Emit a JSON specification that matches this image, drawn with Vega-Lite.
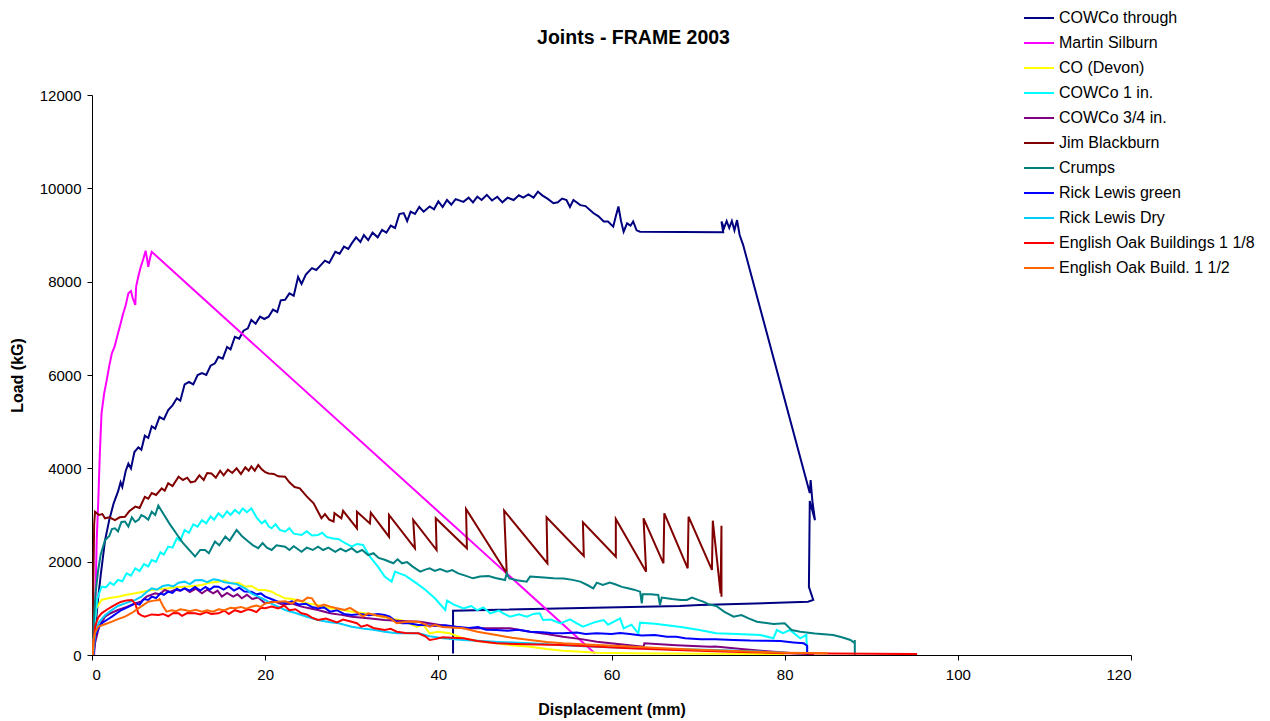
{
"$schema":"https://vega.github.io/schema/vega-lite/v6.json",
"autosize":"none",
"width":1039,"height":560,
"padding":{"left":92,"top":95,"right":139,"bottom":66},
"background":"white",
"title":{"text":"Joints - FRAME 2003","fontSize":19.5,"fontWeight":"bold","font":"Liberation Sans","color":"black","anchor":"middle","dx":22,"offset":-46},
"config":{"view":{"stroke":null},"font":"Liberation Sans"},
"data":{"values":[
{"series":"COWCo through","mm":0.2,"kg":0},{"series":"COWCo through","mm":0.4,"kg":600},{"series":"COWCo through","mm":0.7,"kg":1200},{"series":"COWCo through","mm":1.0,"kg":1700},{"series":"COWCo through","mm":1.5,"kg":2450},{"series":"COWCo through","mm":2.0,"kg":2900},{"series":"COWCo through","mm":2.5,"kg":3250},{"series":"COWCo through","mm":3.0,"kg":3500},{"series":"COWCo through","mm":3.3,"kg":3700},{"series":"COWCo through","mm":3.5,"kg":3600},{"series":"COWCo through","mm":3.9,"kg":3950},{"series":"COWCo through","mm":4.2,"kg":4100},{"series":"COWCo through","mm":4.5,"kg":4000},{"series":"COWCo through","mm":4.9,"kg":4350},{"series":"COWCo through","mm":5.35,"kg":4450},{"series":"COWCo through","mm":5.7,"kg":4400},{"series":"COWCo through","mm":6.1,"kg":4700},{"series":"COWCo through","mm":6.5,"kg":4650},{"series":"COWCo through","mm":6.9,"kg":4900},{"series":"COWCo through","mm":7.3,"kg":4850},{"series":"COWCo through","mm":7.8,"kg":5100},{"series":"COWCo through","mm":8.3,"kg":5050},{"series":"COWCo through","mm":8.8,"kg":5250},{"series":"COWCo through","mm":9.3,"kg":5350},{"series":"COWCo through","mm":9.8,"kg":5500},{"series":"COWCo through","mm":10.2,"kg":5450},{"series":"COWCo through","mm":10.7,"kg":5800},{"series":"COWCo through","mm":11.2,"kg":5850},{"series":"COWCo through","mm":11.7,"kg":5800},{"series":"COWCo through","mm":12.2,"kg":6000},{"series":"COWCo through","mm":12.7,"kg":6040},{"series":"COWCo through","mm":13.2,"kg":6000},{"series":"COWCo through","mm":13.7,"kg":6200},{"series":"COWCo through","mm":14.2,"kg":6250},{"series":"COWCo through","mm":14.6,"kg":6390},{"series":"COWCo through","mm":15.1,"kg":6350},{"series":"COWCo through","mm":15.6,"kg":6600},{"series":"COWCo through","mm":16.0,"kg":6550},{"series":"COWCo through","mm":16.5,"kg":6820},{"series":"COWCo through","mm":17.0,"kg":6780},{"series":"COWCo through","mm":17.5,"kg":6950},{"series":"COWCo through","mm":18.0,"kg":7000},{"series":"COWCo through","mm":18.4,"kg":7180},{"series":"COWCo through","mm":18.9,"kg":7100},{"series":"COWCo through","mm":19.4,"kg":7250},{"series":"COWCo through","mm":19.9,"kg":7200},{"series":"COWCo through","mm":20.4,"kg":7250},{"series":"COWCo through","mm":20.9,"kg":7400},{"series":"COWCo through","mm":21.4,"kg":7350},{"series":"COWCo through","mm":21.8,"kg":7600},{"series":"COWCo through","mm":22.3,"kg":7610},{"series":"COWCo through","mm":22.8,"kg":7750},{"series":"COWCo through","mm":23.3,"kg":7700},{"series":"COWCo through","mm":23.8,"kg":8100},{"series":"COWCo through","mm":24.2,"kg":7950},{"series":"COWCo through","mm":24.7,"kg":8150},{"series":"COWCo through","mm":25.4,"kg":8290},{"series":"COWCo through","mm":25.9,"kg":8250},{"series":"COWCo through","mm":26.4,"kg":8350},{"series":"COWCo through","mm":26.9,"kg":8450},{"series":"COWCo through","mm":27.4,"kg":8400},{"series":"COWCo through","mm":28.1,"kg":8640},{"series":"COWCo through","mm":28.6,"kg":8600},{"series":"COWCo through","mm":29.1,"kg":8750},{"series":"COWCo through","mm":29.6,"kg":8700},{"series":"COWCo through","mm":30.0,"kg":8820},{"series":"COWCo through","mm":30.5,"kg":8950},{"series":"COWCo through","mm":31.0,"kg":8850},{"series":"COWCo through","mm":31.4,"kg":9000},{"series":"COWCo through","mm":31.9,"kg":8890},{"series":"COWCo through","mm":32.4,"kg":9050},{"series":"COWCo through","mm":33.0,"kg":8950},{"series":"COWCo through","mm":33.5,"kg":9110},{"series":"COWCo through","mm":34.0,"kg":9050},{"series":"COWCo through","mm":34.5,"kg":9200},{"series":"COWCo through","mm":35.0,"kg":9150},{"series":"COWCo through","mm":35.5,"kg":9450},{"series":"COWCo through","mm":36.0,"kg":9470},{"series":"COWCo through","mm":36.4,"kg":9300},{"series":"COWCo through","mm":36.8,"kg":9500},{"series":"COWCo through","mm":37.3,"kg":9450},{"series":"COWCo through","mm":37.8,"kg":9600},{"series":"COWCo through","mm":38.3,"kg":9500},{"series":"COWCo through","mm":39.0,"kg":9610},{"series":"COWCo through","mm":39.5,"kg":9550},{"series":"COWCo through","mm":40.0,"kg":9720},{"series":"COWCo through","mm":40.5,"kg":9600},{"series":"COWCo through","mm":41.0,"kg":9750},{"series":"COWCo through","mm":41.5,"kg":9650},{"series":"COWCo through","mm":42.0,"kg":9770},{"series":"COWCo through","mm":42.9,"kg":9710},{"series":"COWCo through","mm":43.5,"kg":9800},{"series":"COWCo through","mm":44.0,"kg":9700},{"series":"COWCo through","mm":44.5,"kg":9820},{"series":"COWCo through","mm":45.0,"kg":9750},{"series":"COWCo through","mm":45.6,"kg":9860},{"series":"COWCo through","mm":46.2,"kg":9740},{"series":"COWCo through","mm":46.8,"kg":9820},{"series":"COWCo through","mm":47.4,"kg":9700},{"series":"COWCo through","mm":48.0,"kg":9800},{"series":"COWCo through","mm":48.7,"kg":9750},{"series":"COWCo through","mm":49.3,"kg":9850},{"series":"COWCo through","mm":49.8,"kg":9800},{"series":"COWCo through","mm":50.4,"kg":9870},{"series":"COWCo through","mm":51.0,"kg":9800},{"series":"COWCo through","mm":51.5,"kg":9930},{"series":"COWCo through","mm":52.0,"kg":9850},{"series":"COWCo through","mm":52.6,"kg":9780},{"series":"COWCo through","mm":53.3,"kg":9680},{"series":"COWCo through","mm":53.8,"kg":9700},{"series":"COWCo through","mm":54.3,"kg":9780},{"series":"COWCo through","mm":54.8,"kg":9750},{"series":"COWCo through","mm":55.2,"kg":9600},{"series":"COWCo through","mm":55.6,"kg":9750},{"series":"COWCo through","mm":56.4,"kg":9640},{"series":"COWCo through","mm":57.0,"kg":9620},{"series":"COWCo through","mm":57.9,"kg":9470},{"series":"COWCo through","mm":58.5,"kg":9400},{"series":"COWCo through","mm":59.1,"kg":9290},{"series":"COWCo through","mm":59.6,"kg":9290},{"series":"COWCo through","mm":60.2,"kg":9180},{"series":"COWCo through","mm":60.5,"kg":9400},{"series":"COWCo through","mm":60.8,"kg":9610},{"series":"COWCo through","mm":61.1,"kg":9300},{"series":"COWCo through","mm":61.4,"kg":9070},{"series":"COWCo through","mm":61.8,"kg":9250},{"series":"COWCo through","mm":62.2,"kg":9200},{"series":"COWCo through","mm":62.5,"kg":9290},{"series":"COWCo through","mm":62.9,"kg":9100},{"series":"COWCo through","mm":63.3,"kg":9070},{"series":"COWCo through","mm":72.9,"kg":9060},{"series":"COWCo through","mm":72.7,"kg":9290},{"series":"COWCo through","mm":73.0,"kg":9150},{"series":"COWCo through","mm":73.3,"kg":9300},{"series":"COWCo through","mm":73.6,"kg":9150},{"series":"COWCo through","mm":73.9,"kg":9300},{"series":"COWCo through","mm":74.2,"kg":9100},{"series":"COWCo through","mm":74.5,"kg":9320},{"series":"COWCo through","mm":74.8,"kg":9000},{"series":"COWCo through","mm":75.2,"kg":8790},{"series":"COWCo through","mm":82.9,"kg":3470},{"series":"COWCo through","mm":83.0,"kg":3750},{"series":"COWCo through","mm":83.2,"kg":3300},{"series":"COWCo through","mm":83.5,"kg":2890},{"series":"COWCo through","mm":82.9,"kg":3300},{"series":"COWCo through","mm":82.8,"kg":1460},{"series":"COWCo through","mm":83.3,"kg":1180},{"series":"COWCo through","mm":82.7,"kg":1140},{"series":"COWCo through","mm":70.2,"kg":1070},{"series":"COWCo through","mm":67.9,"kg":1050},{"series":"COWCo through","mm":41.7,"kg":950},{"series":"COWCo through","mm":41.7,"kg":30},

{"series":"Martin Silburn","mm":0.25,"kg":0},{"series":"Martin Silburn","mm":0.4,"kg":1200},{"series":"Martin Silburn","mm":0.55,"kg":2500},{"series":"Martin Silburn","mm":0.73,"kg":3320},{"series":"Martin Silburn","mm":0.9,"kg":4300},{"series":"Martin Silburn","mm":1.1,"kg":5180},{"series":"Martin Silburn","mm":1.4,"kg":5600},{"series":"Martin Silburn","mm":1.7,"kg":5890},{"series":"Martin Silburn","mm":2.0,"kg":6200},{"series":"Martin Silburn","mm":2.3,"kg":6470},{"series":"Martin Silburn","mm":2.6,"kg":6600},{"series":"Martin Silburn","mm":3.0,"kg":6890},{"series":"Martin Silburn","mm":3.3,"kg":7100},{"series":"Martin Silburn","mm":3.6,"kg":7320},{"series":"Martin Silburn","mm":3.9,"kg":7500},{"series":"Martin Silburn","mm":4.2,"kg":7750},{"series":"Martin Silburn","mm":4.5,"kg":7800},{"series":"Martin Silburn","mm":4.7,"kg":7650},{"series":"Martin Silburn","mm":5.0,"kg":7500},{"series":"Martin Silburn","mm":5.1,"kg":7900},{"series":"Martin Silburn","mm":5.35,"kg":8110},{"series":"Martin Silburn","mm":5.6,"kg":8300},{"series":"Martin Silburn","mm":5.9,"kg":8470},{"series":"Martin Silburn","mm":6.2,"kg":8660},{"series":"Martin Silburn","mm":6.35,"kg":8500},{"series":"Martin Silburn","mm":6.5,"kg":8320},{"series":"Martin Silburn","mm":6.7,"kg":8500},{"series":"Martin Silburn","mm":6.9,"kg":8640},{"series":"Martin Silburn","mm":58.1,"kg":30},

{"series":"\u00a0CO (Devon)","mm":0.1,"kg":0},{"series":"\u00a0CO (Devon)","mm":0.2,"kg":600},{"series":"\u00a0CO (Devon)","mm":0.5,"kg":1000},{"series":"\u00a0CO (Devon)","mm":1.1,"kg":1180},{"series":"\u00a0CO (Devon)","mm":2.0,"kg":1220},{"series":"\u00a0CO (Devon)","mm":3.0,"kg":1250},{"series":"\u00a0CO (Devon)","mm":4.0,"kg":1290},{"series":"\u00a0CO (Devon)","mm":5.0,"kg":1322},{"series":"\u00a0CO (Devon)","mm":6.0,"kg":1360},{"series":"\u00a0CO (Devon)","mm":6.9,"kg":1393},{"series":"\u00a0CO (Devon)","mm":7.8,"kg":1410},{"series":"\u00a0CO (Devon)","mm":8.8,"kg":1429},{"series":"\u00a0CO (Devon)","mm":9.7,"kg":1450},{"series":"\u00a0CO (Devon)","mm":10.7,"kg":1464},{"series":"\u00a0CO (Devon)","mm":11.7,"kg":1480},{"series":"\u00a0CO (Devon)","mm":12.7,"kg":1500},{"series":"\u00a0CO (Devon)","mm":13.6,"kg":1550},{"series":"\u00a0CO (Devon)","mm":14.6,"kg":1572},{"series":"\u00a0CO (Devon)","mm":15.3,"kg":1600},{"series":"\u00a0CO (Devon)","mm":16.1,"kg":1536},{"series":"\u00a0CO (Devon)","mm":16.9,"kg":1550},{"series":"\u00a0CO (Devon)","mm":17.7,"kg":1464},{"series":"\u00a0CO (Devon)","mm":18.4,"kg":1480},{"series":"\u00a0CO (Devon)","mm":19.2,"kg":1393},{"series":"\u00a0CO (Devon)","mm":20.0,"kg":1393},{"series":"\u00a0CO (Devon)","mm":20.75,"kg":1357},{"series":"\u00a0CO (Devon)","mm":21.3,"kg":1300},{"series":"\u00a0CO (Devon)","mm":21.9,"kg":1250},{"series":"\u00a0CO (Devon)","mm":22.3,"kg":1215},{"series":"\u00a0CO (Devon)","mm":23.2,"kg":1200},{"series":"\u00a0CO (Devon)","mm":24.2,"kg":1143},{"series":"\u00a0CO (Devon)","mm":25.1,"kg":1100},{"series":"\u00a0CO (Devon)","mm":26.1,"kg":1071},{"series":"\u00a0CO (Devon)","mm":27.5,"kg":1000},{"series":"\u00a0CO (Devon)","mm":28.5,"kg":980},{"series":"\u00a0CO (Devon)","mm":30.0,"kg":929},{"series":"\u00a0CO (Devon)","mm":31.3,"kg":900},{"series":"\u00a0CO (Devon)","mm":32.7,"kg":857},{"series":"\u00a0CO (Devon)","mm":33.3,"kg":822},{"series":"\u00a0CO (Devon)","mm":34.5,"kg":780},{"series":"\u00a0CO (Devon)","mm":35.8,"kg":740},{"series":"\u00a0CO (Devon)","mm":37.5,"kg":607},{"series":"\u00a0CO (Devon)","mm":38.3,"kg":640},{"series":"\u00a0CO (Devon)","mm":39.0,"kg":464},{"series":"\u00a0CO (Devon)","mm":40.0,"kg":500},{"series":"\u00a0CO (Devon)","mm":41.3,"kg":464},{"series":"\u00a0CO (Devon)","mm":42.9,"kg":357},{"series":"\u00a0CO (Devon)","mm":44.5,"kg":300},{"series":"\u00a0CO (Devon)","mm":46.7,"kg":250},{"series":"\u00a0CO (Devon)","mm":48.5,"kg":210},{"series":"\u00a0CO (Devon)","mm":50.6,"kg":179},{"series":"\u00a0CO (Devon)","mm":52.5,"kg":130},{"series":"\u00a0CO (Devon)","mm":54.4,"kg":93},{"series":"\u00a0CO (Devon)","mm":56.5,"kg":70},{"series":"\u00a0CO (Devon)","mm":58.3,"kg":50},{"series":"\u00a0CO (Devon)","mm":62.0,"kg":40},{"series":"\u00a0CO (Devon)","mm":65.9,"kg":30},{"series":"\u00a0CO (Devon)","mm":72.0,"kg":25},{"series":"\u00a0CO (Devon)","mm":80.0,"kg":20},

{"series":"COWCo 1 in.","mm":0.1,"kg":0},{"series":"COWCo 1 in.","mm":0.2,"kg":500},{"series":"COWCo 1 in.","mm":0.35,"kg":750},{"series":"COWCo 1 in.","mm":0.6,"kg":1200},{"series":"COWCo 1 in.","mm":1.1,"kg":1464},{"series":"COWCo 1 in.","mm":1.6,"kg":1450},{"series":"COWCo 1 in.","mm":2.1,"kg":1550},{"series":"COWCo 1 in.","mm":2.5,"kg":1500},{"series":"COWCo 1 in.","mm":3.0,"kg":1607},{"series":"COWCo 1 in.","mm":3.5,"kg":1580},{"series":"COWCo 1 in.","mm":4.0,"kg":1750},{"series":"COWCo 1 in.","mm":4.5,"kg":1700},{"series":"COWCo 1 in.","mm":5.0,"kg":1858},{"series":"COWCo 1 in.","mm":5.5,"kg":1800},{"series":"COWCo 1 in.","mm":6.0,"kg":1950},{"series":"COWCo 1 in.","mm":6.5,"kg":1900},{"series":"COWCo 1 in.","mm":6.9,"kg":2036},{"series":"COWCo 1 in.","mm":7.4,"kg":2000},{"series":"COWCo 1 in.","mm":7.9,"kg":2200},{"series":"COWCo 1 in.","mm":8.3,"kg":2150},{"series":"COWCo 1 in.","mm":8.8,"kg":2322},{"series":"COWCo 1 in.","mm":9.3,"kg":2300},{"series":"COWCo 1 in.","mm":9.8,"kg":2500},{"series":"COWCo 1 in.","mm":10.2,"kg":2450},{"series":"COWCo 1 in.","mm":10.7,"kg":2680},{"series":"COWCo 1 in.","mm":11.2,"kg":2620},{"series":"COWCo 1 in.","mm":11.7,"kg":2800},{"series":"COWCo 1 in.","mm":12.2,"kg":2750},{"series":"COWCo 1 in.","mm":12.7,"kg":2890},{"series":"COWCo 1 in.","mm":13.2,"kg":2820},{"series":"COWCo 1 in.","mm":13.7,"kg":2970},{"series":"COWCo 1 in.","mm":14.1,"kg":2900},{"series":"COWCo 1 in.","mm":14.6,"kg":3036},{"series":"COWCo 1 in.","mm":15.1,"kg":2950},{"series":"COWCo 1 in.","mm":15.6,"kg":3080},{"series":"COWCo 1 in.","mm":16.0,"kg":3000},{"series":"COWCo 1 in.","mm":16.5,"kg":3107},{"series":"COWCo 1 in.","mm":17.0,"kg":3030},{"series":"COWCo 1 in.","mm":17.4,"kg":3140},{"series":"COWCo 1 in.","mm":17.9,"kg":3060},{"series":"COWCo 1 in.","mm":18.4,"kg":3143},{"series":"COWCo 1 in.","mm":19.0,"kg":2950},{"series":"COWCo 1 in.","mm":19.6,"kg":2822},{"series":"COWCo 1 in.","mm":20.0,"kg":2880},{"series":"COWCo 1 in.","mm":20.4,"kg":2760},{"series":"COWCo 1 in.","mm":20.75,"kg":2715},{"series":"COWCo 1 in.","mm":21.2,"kg":2800},{"series":"COWCo 1 in.","mm":21.7,"kg":2680},{"series":"COWCo 1 in.","mm":22.3,"kg":2643},{"series":"COWCo 1 in.","mm":22.8,"kg":2720},{"series":"COWCo 1 in.","mm":23.3,"kg":2600},{"series":"COWCo 1 in.","mm":24.2,"kg":2572},{"series":"COWCo 1 in.","mm":24.8,"kg":2650},{"series":"COWCo 1 in.","mm":25.4,"kg":2560},{"series":"COWCo 1 in.","mm":26.1,"kg":2572},{"series":"COWCo 1 in.","mm":26.6,"kg":2620},{"series":"COWCo 1 in.","mm":27.1,"kg":2530},{"series":"COWCo 1 in.","mm":27.7,"kg":2500},{"series":"COWCo 1 in.","mm":28.5,"kg":2480},{"series":"COWCo 1 in.","mm":29.2,"kg":2400},{"series":"COWCo 1 in.","mm":30.0,"kg":2322},{"series":"COWCo 1 in.","mm":30.6,"kg":2380},{"series":"COWCo 1 in.","mm":31.3,"kg":2357},{"series":"COWCo 1 in.","mm":32.1,"kg":2107},{"series":"COWCo 1 in.","mm":33.0,"kg":1900},{"series":"COWCo 1 in.","mm":33.8,"kg":1679},{"series":"COWCo 1 in.","mm":34.6,"kg":1572},{"series":"COWCo 1 in.","mm":35.0,"kg":1786},{"series":"COWCo 1 in.","mm":35.5,"kg":1750},{"series":"COWCo 1 in.","mm":36.2,"kg":1700},{"series":"COWCo 1 in.","mm":37.5,"kg":1536},{"series":"COWCo 1 in.","mm":38.5,"kg":1400},{"series":"COWCo 1 in.","mm":39.6,"kg":1215},{"series":"COWCo 1 in.","mm":40.8,"kg":964},{"series":"COWCo 1 in.","mm":41.0,"kg":1164},{"series":"COWCo 1 in.","mm":41.8,"kg":1080},{"series":"COWCo 1 in.","mm":42.9,"kg":1000},{"series":"COWCo 1 in.","mm":43.8,"kg":1050},{"series":"COWCo 1 in.","mm":44.5,"kg":960},{"series":"COWCo 1 in.","mm":45.2,"kg":1020},{"series":"COWCo 1 in.","mm":46.0,"kg":893},{"series":"COWCo 1 in.","mm":47.0,"kg":950},{"series":"COWCo 1 in.","mm":47.5,"kg":893},{"series":"COWCo 1 in.","mm":48.3,"kg":822},{"series":"COWCo 1 in.","mm":49.3,"kg":870},{"series":"COWCo 1 in.","mm":50.2,"kg":822},{"series":"COWCo 1 in.","mm":51.0,"kg":880},{"series":"COWCo 1 in.","mm":51.7,"kg":893},{"series":"COWCo 1 in.","mm":52.1,"kg":750},{"series":"COWCo 1 in.","mm":53.0,"kg":760},{"series":"COWCo 1 in.","mm":54.1,"kg":679},{"series":"COWCo 1 in.","mm":55.2,"kg":764},{"series":"COWCo 1 in.","mm":56.0,"kg":680},{"series":"COWCo 1 in.","mm":56.7,"kg":607},{"series":"COWCo 1 in.","mm":58.0,"kg":700},{"series":"COWCo 1 in.","mm":59.1,"kg":750},{"series":"COWCo 1 in.","mm":59.6,"kg":650},{"series":"COWCo 1 in.","mm":61.0,"kg":786},{"series":"COWCo 1 in.","mm":61.4,"kg":572},{"series":"COWCo 1 in.","mm":62.3,"kg":650},{"series":"COWCo 1 in.","mm":63.1,"kg":464},{"series":"COWCo 1 in.","mm":63.3,"kg":693},{"series":"COWCo 1 in.","mm":65.0,"kg":670},{"series":"COWCo 1 in.","mm":66.2,"kg":643},{"series":"COWCo 1 in.","mm":68.0,"kg":600},{"series":"COWCo 1 in.","mm":70.0,"kg":540},{"series":"COWCo 1 in.","mm":72.1,"kg":464},{"series":"COWCo 1 in.","mm":74.5,"kg":450},{"series":"COWCo 1 in.","mm":77.2,"kg":429},{"series":"COWCo 1 in.","mm":78.7,"kg":357},{"series":"COWCo 1 in.","mm":79.1,"kg":536},{"series":"COWCo 1 in.","mm":79.8,"kg":470},{"series":"COWCo 1 in.","mm":80.6,"kg":536},{"series":"COWCo 1 in.","mm":81.8,"kg":357},{"series":"COWCo 1 in.","mm":82.5,"kg":429},{"series":"COWCo 1 in.","mm":82.6,"kg":0},

{"series":"COWCo 3/4 in.","mm":0.2,"kg":0},{"series":"COWCo 3/4 in.","mm":0.35,"kg":250},{"series":"COWCo 3/4 in.","mm":0.8,"kg":600},{"series":"COWCo 3/4 in.","mm":1.5,"kg":822},{"series":"COWCo 3/4 in.","mm":2.2,"kg":900},{"series":"COWCo 3/4 in.","mm":3.0,"kg":964},{"series":"COWCo 3/4 in.","mm":4.0,"kg":1030},{"series":"COWCo 3/4 in.","mm":5.0,"kg":1107},{"series":"COWCo 3/4 in.","mm":5.7,"kg":1150},{"series":"COWCo 3/4 in.","mm":6.3,"kg":1250},{"series":"COWCo 3/4 in.","mm":7.3,"kg":1322},{"series":"COWCo 3/4 in.","mm":7.8,"kg":1300},{"series":"COWCo 3/4 in.","mm":8.4,"kg":1393},{"series":"COWCo 3/4 in.","mm":9.0,"kg":1350},{"series":"COWCo 3/4 in.","mm":9.6,"kg":1400},{"series":"COWCo 3/4 in.","mm":10.2,"kg":1380},{"series":"COWCo 3/4 in.","mm":10.7,"kg":1429},{"series":"COWCo 3/4 in.","mm":11.3,"kg":1350},{"series":"COWCo 3/4 in.","mm":12.0,"kg":1420},{"series":"COWCo 3/4 in.","mm":12.7,"kg":1322},{"series":"COWCo 3/4 in.","mm":13.3,"kg":1400},{"series":"COWCo 3/4 in.","mm":14.0,"kg":1320},{"series":"COWCo 3/4 in.","mm":14.5,"kg":1380},{"series":"COWCo 3/4 in.","mm":15.0,"kg":1250},{"series":"COWCo 3/4 in.","mm":15.6,"kg":1330},{"series":"COWCo 3/4 in.","mm":16.3,"kg":1250},{"series":"COWCo 3/4 in.","mm":16.8,"kg":1300},{"series":"COWCo 3/4 in.","mm":17.3,"kg":1215},{"series":"COWCo 3/4 in.","mm":17.9,"kg":1290},{"series":"COWCo 3/4 in.","mm":18.5,"kg":1200},{"series":"COWCo 3/4 in.","mm":19.2,"kg":1230},{"series":"COWCo 3/4 in.","mm":20.0,"kg":1107},{"series":"COWCo 3/4 in.","mm":21.0,"kg":1150},{"series":"COWCo 3/4 in.","mm":22.0,"kg":1080},{"series":"COWCo 3/4 in.","mm":23.1,"kg":1100},{"series":"COWCo 3/4 in.","mm":24.2,"kg":1036},{"series":"COWCo 3/4 in.","mm":25.1,"kg":1000},{"series":"COWCo 3/4 in.","mm":26.1,"kg":964},{"series":"COWCo 3/4 in.","mm":27.5,"kg":893},{"series":"COWCo 3/4 in.","mm":28.8,"kg":860},{"series":"COWCo 3/4 in.","mm":30.0,"kg":822},{"series":"COWCo 3/4 in.","mm":31.9,"kg":790},{"series":"COWCo 3/4 in.","mm":33.8,"kg":750},{"series":"COWCo 3/4 in.","mm":35.8,"kg":730},{"series":"COWCo 3/4 in.","mm":37.9,"kg":714},{"series":"COWCo 3/4 in.","mm":40.0,"kg":650},{"series":"COWCo 3/4 in.","mm":41.5,"kg":610},{"series":"COWCo 3/4 in.","mm":42.9,"kg":572},{"series":"COWCo 3/4 in.","mm":45.5,"kg":572},{"series":"COWCo 3/4 in.","mm":48.3,"kg":572},{"series":"COWCo 3/4 in.","mm":50.6,"kg":500},{"series":"COWCo 3/4 in.","mm":52.5,"kg":450},{"series":"COWCo 3/4 in.","mm":54.4,"kg":393},{"series":"COWCo 3/4 in.","mm":56.5,"kg":340},{"series":"COWCo 3/4 in.","mm":58.3,"kg":286},{"series":"COWCo 3/4 in.","mm":61.0,"kg":230},{"series":"COWCo 3/4 in.","mm":63.7,"kg":179},{"series":"COWCo 3/4 in.","mm":63.8,"kg":250},{"series":"COWCo 3/4 in.","mm":67.5,"kg":210},{"series":"COWCo 3/4 in.","mm":71.4,"kg":179},{"series":"COWCo 3/4 in.","mm":72.0,"kg":180},{"series":"COWCo 3/4 in.","mm":75.0,"kg":130},{"series":"COWCo 3/4 in.","mm":78.0,"kg":80},{"series":"COWCo 3/4 in.","mm":81.0,"kg":40},{"series":"COWCo 3/4 in.","mm":83.4,"kg":10},

{"series":"Jim Blackburn","mm":0.1,"kg":0},{"series":"Jim Blackburn","mm":0.15,"kg":1500},{"series":"Jim Blackburn","mm":0.25,"kg":2800},{"series":"Jim Blackburn","mm":0.35,"kg":3070},{"series":"Jim Blackburn","mm":0.8,"kg":3000},{"series":"Jim Blackburn","mm":1.2,"kg":3020},{"series":"Jim Blackburn","mm":1.5,"kg":2930},{"series":"Jim Blackburn","mm":2.0,"kg":2950},{"series":"Jim Blackburn","mm":2.65,"kg":2890},{"series":"Jim Blackburn","mm":3.2,"kg":2950},{"series":"Jim Blackburn","mm":3.8,"kg":2960},{"series":"Jim Blackburn","mm":4.3,"kg":3080},{"series":"Jim Blackburn","mm":5.0,"kg":3180},{"series":"Jim Blackburn","mm":5.5,"kg":3150},{"series":"Jim Blackburn","mm":6.1,"kg":3390},{"series":"Jim Blackburn","mm":6.5,"kg":3350},{"series":"Jim Blackburn","mm":6.9,"kg":3470},{"series":"Jim Blackburn","mm":7.4,"kg":3430},{"series":"Jim Blackburn","mm":8.05,"kg":3570},{"series":"Jim Blackburn","mm":8.4,"kg":3520},{"series":"Jim Blackburn","mm":8.8,"kg":3680},{"series":"Jim Blackburn","mm":9.3,"kg":3620},{"series":"Jim Blackburn","mm":10.0,"kg":3820},{"series":"Jim Blackburn","mm":10.5,"kg":3750},{"series":"Jim Blackburn","mm":11.0,"kg":3800},{"series":"Jim Blackburn","mm":11.4,"kg":3700},{"series":"Jim Blackburn","mm":11.9,"kg":3720},{"series":"Jim Blackburn","mm":12.4,"kg":3850},{"series":"Jim Blackburn","mm":12.9,"kg":3750},{"series":"Jim Blackburn","mm":13.3,"kg":3900},{"series":"Jim Blackburn","mm":13.8,"kg":3890},{"series":"Jim Blackburn","mm":14.3,"kg":3800},{"series":"Jim Blackburn","mm":14.8,"kg":3950},{"series":"Jim Blackburn","mm":15.2,"kg":3850},{"series":"Jim Blackburn","mm":15.7,"kg":3970},{"series":"Jim Blackburn","mm":16.2,"kg":3900},{"series":"Jim Blackburn","mm":16.7,"kg":4000},{"series":"Jim Blackburn","mm":17.2,"kg":3880},{"series":"Jim Blackburn","mm":17.7,"kg":4020},{"series":"Jim Blackburn","mm":18.1,"kg":3950},{"series":"Jim Blackburn","mm":18.4,"kg":4040},{"series":"Jim Blackburn","mm":18.8,"kg":3950},{"series":"Jim Blackburn","mm":19.2,"kg":4070},{"series":"Jim Blackburn","mm":19.6,"kg":3980},{"series":"Jim Blackburn","mm":20.0,"kg":3920},{"series":"Jim Blackburn","mm":20.4,"kg":3890},{"series":"Jim Blackburn","mm":21.0,"kg":3880},{"series":"Jim Blackburn","mm":21.5,"kg":3830},{"series":"Jim Blackburn","mm":22.3,"kg":3820},{"series":"Jim Blackburn","mm":22.8,"kg":3700},{"series":"Jim Blackburn","mm":23.4,"kg":3600},{"series":"Jim Blackburn","mm":24.0,"kg":3570},{"series":"Jim Blackburn","mm":24.8,"kg":3400},{"series":"Jim Blackburn","mm":25.6,"kg":3250},{"series":"Jim Blackburn","mm":26.5,"kg":2930},{"series":"Jim Blackburn","mm":26.9,"kg":3020},{"series":"Jim Blackburn","mm":27.4,"kg":2900},{"series":"Jim Blackburn","mm":27.9,"kg":2860},{"series":"Jim Blackburn","mm":28.0,"kg":3040},{"series":"Jim Blackburn","mm":28.8,"kg":2930},{"series":"Jim Blackburn","mm":29.0,"kg":3090},{"series":"Jim Blackburn","mm":30.6,"kg":2715},{"series":"Jim Blackburn","mm":30.6,"kg":3070},{"series":"Jim Blackburn","mm":32.1,"kg":2820},{"series":"Jim Blackburn","mm":32.2,"kg":3050},{"series":"Jim Blackburn","mm":34.3,"kg":2536},{"series":"Jim Blackburn","mm":34.3,"kg":3000},{"series":"Jim Blackburn","mm":37.3,"kg":2286},{"series":"Jim Blackburn","mm":37.1,"kg":2893},{"series":"Jim Blackburn","mm":39.8,"kg":2250},{"series":"Jim Blackburn","mm":39.7,"kg":2930},{"series":"Jim Blackburn","mm":43.3,"kg":2286},{"series":"Jim Blackburn","mm":43.2,"kg":3129},{"series":"Jim Blackburn","mm":47.9,"kg":1750},{"series":"Jim Blackburn","mm":47.6,"kg":3093},{"series":"Jim Blackburn","mm":52.6,"kg":1965},{"series":"Jim Blackburn","mm":52.5,"kg":2950},{"series":"Jim Blackburn","mm":56.8,"kg":2122},{"series":"Jim Blackburn","mm":56.7,"kg":2843},{"series":"Jim Blackburn","mm":60.5,"kg":2107},{"series":"Jim Blackburn","mm":60.5,"kg":2914},{"series":"Jim Blackburn","mm":64.0,"kg":1786},{"series":"Jim Blackburn","mm":63.7,"kg":2929},{"series":"Jim Blackburn","mm":66.0,"kg":1965},{"series":"Jim Blackburn","mm":66.1,"kg":3036},{"series":"Jim Blackburn","mm":68.8,"kg":1858},{"series":"Jim Blackburn","mm":68.9,"kg":2964},{"series":"Jim Blackburn","mm":71.6,"kg":1822},{"series":"Jim Blackburn","mm":71.7,"kg":2879},{"series":"Jim Blackburn","mm":72.6,"kg":1322},{"series":"Jim Blackburn","mm":72.7,"kg":2772},{"series":"Jim Blackburn","mm":72.7,"kg":1250},

{"series":"Crumps","mm":0.1,"kg":0},{"series":"Crumps","mm":0.2,"kg":700},{"series":"Crumps","mm":0.4,"kg":1300},{"series":"Crumps","mm":0.7,"kg":1800},{"series":"Crumps","mm":1.0,"kg":2150},{"series":"Crumps","mm":1.5,"kg":2460},{"series":"Crumps","mm":2.0,"kg":2550},{"series":"Crumps","mm":2.3,"kg":2700},{"series":"Crumps","mm":2.65,"kg":2715},{"series":"Crumps","mm":3.0,"kg":2650},{"series":"Crumps","mm":3.4,"kg":2850},{"series":"Crumps","mm":3.8,"kg":2860},{"series":"Crumps","mm":4.2,"kg":2750},{"series":"Crumps","mm":4.6,"kg":2950},{"series":"Crumps","mm":5.0,"kg":2850},{"series":"Crumps","mm":5.4,"kg":2900},{"series":"Crumps","mm":5.7,"kg":3000},{"series":"Crumps","mm":6.1,"kg":2960},{"series":"Crumps","mm":6.5,"kg":2900},{"series":"Crumps","mm":6.9,"kg":3070},{"series":"Crumps","mm":7.3,"kg":3000},{"series":"Crumps","mm":7.66,"kg":3200},{"series":"Crumps","mm":9.0,"kg":2800},{"series":"Crumps","mm":10.5,"kg":2400},{"series":"Crumps","mm":11.9,"kg":2110},{"series":"Crumps","mm":12.5,"kg":2250},{"series":"Crumps","mm":13.05,"kg":2250},{"series":"Crumps","mm":13.5,"kg":2180},{"series":"Crumps","mm":14.2,"kg":2430},{"series":"Crumps","mm":14.7,"kg":2350},{"series":"Crumps","mm":15.4,"kg":2540},{"series":"Crumps","mm":15.9,"kg":2450},{"series":"Crumps","mm":16.7,"kg":2680},{"series":"Crumps","mm":17.3,"kg":2550},{"series":"Crumps","mm":18.05,"kg":2430},{"series":"Crumps","mm":18.6,"kg":2350},{"series":"Crumps","mm":19.2,"kg":2290},{"series":"Crumps","mm":19.7,"kg":2400},{"series":"Crumps","mm":20.2,"kg":2300},{"series":"Crumps","mm":20.75,"kg":2250},{"series":"Crumps","mm":21.3,"kg":2350},{"series":"Crumps","mm":22.3,"kg":2320},{"series":"Crumps","mm":22.8,"kg":2250},{"series":"Crumps","mm":23.3,"kg":2330},{"series":"Crumps","mm":24.2,"kg":2210},{"series":"Crumps","mm":24.8,"kg":2300},{"series":"Crumps","mm":25.5,"kg":2250},{"series":"Crumps","mm":26.1,"kg":2320},{"series":"Crumps","mm":26.7,"kg":2250},{"series":"Crumps","mm":27.3,"kg":2300},{"series":"Crumps","mm":28.1,"kg":2210},{"series":"Crumps","mm":28.7,"kg":2280},{"series":"Crumps","mm":29.3,"kg":2220},{"series":"Crumps","mm":30.0,"kg":2290},{"series":"Crumps","mm":30.6,"kg":2200},{"series":"Crumps","mm":31.2,"kg":2250},{"series":"Crumps","mm":31.9,"kg":2140},{"series":"Crumps","mm":32.5,"kg":2180},{"series":"Crumps","mm":33.1,"kg":2080},{"series":"Crumps","mm":33.8,"kg":2040},{"series":"Crumps","mm":34.8,"kg":1965},{"series":"Crumps","mm":35.3,"kg":2050},{"series":"Crumps","mm":35.8,"kg":1965},{"series":"Crumps","mm":36.4,"kg":1990},{"series":"Crumps","mm":37.0,"kg":1900},{"series":"Crumps","mm":37.9,"kg":1786},{"series":"Crumps","mm":38.5,"kg":1830},{"series":"Crumps","mm":39.0,"kg":1858},{"series":"Crumps","mm":39.6,"kg":1800},{"series":"Crumps","mm":40.2,"kg":1840},{"series":"Crumps","mm":41.0,"kg":1786},{"series":"Crumps","mm":41.6,"kg":1820},{"series":"Crumps","mm":42.3,"kg":1750},{"series":"Crumps","mm":43.1,"kg":1700},{"series":"Crumps","mm":44.0,"kg":1643},{"series":"Crumps","mm":44.8,"kg":1680},{"series":"Crumps","mm":45.8,"kg":1693},{"series":"Crumps","mm":46.6,"kg":1650},{"series":"Crumps","mm":47.7,"kg":1607},{"series":"Crumps","mm":47.9,"kg":1750},{"series":"Crumps","mm":48.2,"kg":1640},{"series":"Crumps","mm":49.1,"kg":1600},{"series":"Crumps","mm":50.2,"kg":1572},{"series":"Crumps","mm":50.6,"kg":1680},{"series":"Crumps","mm":51.0,"kg":1679},{"series":"Crumps","mm":52.2,"kg":1660},{"series":"Crumps","mm":53.3,"kg":1643},{"series":"Crumps","mm":54.5,"kg":1640},{"series":"Crumps","mm":55.5,"kg":1610},{"series":"Crumps","mm":56.4,"kg":1572},{"series":"Crumps","mm":57.2,"kg":1500},{"series":"Crumps","mm":57.9,"kg":1429},{"series":"Crumps","mm":58.3,"kg":1550},{"series":"Crumps","mm":59.0,"kg":1500},{"series":"Crumps","mm":59.8,"kg":1550},{"series":"Crumps","mm":60.5,"kg":1510},{"series":"Crumps","mm":61.2,"kg":1460},{"series":"Crumps","mm":61.9,"kg":1429},{"series":"Crumps","mm":62.6,"kg":1400},{"series":"Crumps","mm":63.3,"kg":1357},{"series":"Crumps","mm":63.5,"kg":1107},{"series":"Crumps","mm":63.6,"kg":1300},{"series":"Crumps","mm":64.5,"kg":1300},{"series":"Crumps","mm":65.4,"kg":1286},{"series":"Crumps","mm":65.6,"kg":1071},{"series":"Crumps","mm":65.8,"kg":1230},{"series":"Crumps","mm":67.0,"kg":1200},{"series":"Crumps","mm":68.0,"kg":1180},{"series":"Crumps","mm":68.7,"kg":1179},{"series":"Crumps","mm":69.3,"kg":1230},{"series":"Crumps","mm":70.0,"kg":1180},{"series":"Crumps","mm":70.6,"kg":1143},{"series":"Crumps","mm":71.3,"kg":1080},{"series":"Crumps","mm":72.1,"kg":1050},{"series":"Crumps","mm":73.0,"kg":930},{"series":"Crumps","mm":74.1,"kg":822},{"series":"Crumps","mm":75.0,"kg":857},{"series":"Crumps","mm":75.9,"kg":780},{"series":"Crumps","mm":76.8,"kg":714},{"series":"Crumps","mm":77.7,"kg":690},{"series":"Crumps","mm":78.7,"kg":664},{"series":"Crumps","mm":80.0,"kg":679},{"series":"Crumps","mm":80.8,"kg":536},{"series":"Crumps","mm":81.8,"kg":500},{"series":"Crumps","mm":83.5,"kg":460},{"series":"Crumps","mm":85.6,"kg":429},{"series":"Crumps","mm":86.6,"kg":380},{"series":"Crumps","mm":87.6,"kg":321},{"series":"Crumps","mm":88.1,"kg":250},{"series":"Crumps","mm":88.1,"kg":320},{"series":"Crumps","mm":88.1,"kg":0},

{"series":"Rick Lewis green","mm":0.15,"kg":0},{"series":"Rick Lewis green","mm":0.35,"kg":393},{"series":"Rick Lewis green","mm":0.7,"kg":550},{"series":"Rick Lewis green","mm":1.1,"kg":679},{"series":"Rick Lewis green","mm":1.7,"kg":750},{"series":"Rick Lewis green","mm":2.3,"kg":822},{"series":"Rick Lewis green","mm":2.9,"kg":900},{"series":"Rick Lewis green","mm":3.4,"kg":964},{"series":"Rick Lewis green","mm":4.2,"kg":1030},{"series":"Rick Lewis green","mm":5.0,"kg":1107},{"series":"Rick Lewis green","mm":5.5,"kg":1080},{"series":"Rick Lewis green","mm":6.0,"kg":1200},{"series":"Rick Lewis green","mm":6.5,"kg":1180},{"series":"Rick Lewis green","mm":6.9,"kg":1250},{"series":"Rick Lewis green","mm":7.4,"kg":1220},{"series":"Rick Lewis green","mm":7.9,"kg":1320},{"series":"Rick Lewis green","mm":8.3,"kg":1290},{"series":"Rick Lewis green","mm":8.8,"kg":1357},{"series":"Rick Lewis green","mm":9.3,"kg":1330},{"series":"Rick Lewis green","mm":9.8,"kg":1420},{"series":"Rick Lewis green","mm":10.2,"kg":1380},{"series":"Rick Lewis green","mm":10.7,"kg":1429},{"series":"Rick Lewis green","mm":11.3,"kg":1380},{"series":"Rick Lewis green","mm":11.9,"kg":1460},{"series":"Rick Lewis green","mm":12.5,"kg":1380},{"series":"Rick Lewis green","mm":13.1,"kg":1460},{"series":"Rick Lewis green","mm":13.6,"kg":1400},{"series":"Rick Lewis green","mm":14.1,"kg":1470},{"series":"Rick Lewis green","mm":14.6,"kg":1464},{"series":"Rick Lewis green","mm":15.2,"kg":1400},{"series":"Rick Lewis green","mm":15.8,"kg":1470},{"series":"Rick Lewis green","mm":16.4,"kg":1380},{"series":"Rick Lewis green","mm":17.0,"kg":1440},{"series":"Rick Lewis green","mm":17.6,"kg":1360},{"series":"Rick Lewis green","mm":18.4,"kg":1357},{"series":"Rick Lewis green","mm":19.0,"kg":1300},{"series":"Rick Lewis green","mm":19.5,"kg":1320},{"series":"Rick Lewis green","mm":20.0,"kg":1250},{"series":"Rick Lewis green","mm":20.7,"kg":1200},{"series":"Rick Lewis green","mm":21.5,"kg":1143},{"series":"Rick Lewis green","mm":22.3,"kg":1107},{"series":"Rick Lewis green","mm":23.1,"kg":1150},{"series":"Rick Lewis green","mm":23.9,"kg":1080},{"series":"Rick Lewis green","mm":24.7,"kg":1100},{"series":"Rick Lewis green","mm":25.4,"kg":1030},{"series":"Rick Lewis green","mm":26.1,"kg":1000},{"series":"Rick Lewis green","mm":26.8,"kg":1020},{"series":"Rick Lewis green","mm":27.5,"kg":929},{"series":"Rick Lewis green","mm":28.3,"kg":960},{"series":"Rick Lewis green","mm":29.1,"kg":880},{"series":"Rick Lewis green","mm":30.0,"kg":857},{"series":"Rick Lewis green","mm":31.0,"kg":880},{"series":"Rick Lewis green","mm":32.0,"kg":850},{"series":"Rick Lewis green","mm":33.0,"kg":880},{"series":"Rick Lewis green","mm":33.8,"kg":857},{"series":"Rick Lewis green","mm":34.4,"kg":822},{"series":"Rick Lewis green","mm":35.2,"kg":700},{"series":"Rick Lewis green","mm":35.8,"kg":679},{"series":"Rick Lewis green","mm":36.6,"kg":680},{"series":"Rick Lewis green","mm":37.7,"kg":643},{"series":"Rick Lewis green","mm":38.3,"kg":643},{"series":"Rick Lewis green","mm":39.5,"kg":620},{"series":"Rick Lewis green","mm":40.8,"kg":640},{"series":"Rick Lewis green","mm":42.1,"kg":607},{"series":"Rick Lewis green","mm":43.5,"kg":580},{"series":"Rick Lewis green","mm":44.6,"kg":600},{"series":"Rick Lewis green","mm":45.5,"kg":540},{"series":"Rick Lewis green","mm":46.7,"kg":536},{"series":"Rick Lewis green","mm":48.0,"kg":520},{"series":"Rick Lewis green","mm":49.2,"kg":540},{"series":"Rick Lewis green","mm":50.6,"kg":500},{"series":"Rick Lewis green","mm":52.0,"kg":490},{"series":"Rick Lewis green","mm":53.0,"kg":470},{"series":"Rick Lewis green","mm":54.4,"kg":464},{"series":"Rick Lewis green","mm":56.0,"kg":480},{"series":"Rick Lewis green","mm":57.0,"kg":450},{"series":"Rick Lewis green","mm":58.3,"kg":464},{"series":"Rick Lewis green","mm":60.0,"kg":450},{"series":"Rick Lewis green","mm":61.0,"kg":470},{"series":"Rick Lewis green","mm":62.1,"kg":450},{"series":"Rick Lewis green","mm":63.5,"kg":420},{"series":"Rick Lewis green","mm":65.0,"kg":430},{"series":"Rick Lewis green","mm":66.4,"kg":393},{"series":"Rick Lewis green","mm":67.5,"kg":393},{"series":"Rick Lewis green","mm":68.5,"kg":360},{"series":"Rick Lewis green","mm":70.3,"kg":336},{"series":"Rick Lewis green","mm":72.0,"kg":340},{"series":"Rick Lewis green","mm":74.1,"kg":321},{"series":"Rick Lewis green","mm":76.0,"kg":310},{"series":"Rick Lewis green","mm":77.9,"kg":307},{"series":"Rick Lewis green","mm":79.5,"kg":300},{"series":"Rick Lewis green","mm":81.0,"kg":270},{"series":"Rick Lewis green","mm":82.2,"kg":250},{"series":"Rick Lewis green","mm":82.6,"kg":200},{"series":"Rick Lewis green","mm":82.6,"kg":0},

{"series":"Rick Lewis Dry","mm":0.15,"kg":0},{"series":"Rick Lewis Dry","mm":0.35,"kg":464},{"series":"Rick Lewis Dry","mm":0.8,"kg":700},{"series":"Rick Lewis Dry","mm":1.5,"kg":850},{"series":"Rick Lewis Dry","mm":2.3,"kg":964},{"series":"Rick Lewis Dry","mm":3.0,"kg":1050},{"series":"Rick Lewis Dry","mm":3.8,"kg":1107},{"series":"Rick Lewis Dry","mm":4.5,"kg":1150},{"series":"Rick Lewis Dry","mm":5.0,"kg":1180},{"series":"Rick Lewis Dry","mm":5.7,"kg":1250},{"series":"Rick Lewis Dry","mm":6.3,"kg":1350},{"series":"Rick Lewis Dry","mm":6.9,"kg":1429},{"series":"Rick Lewis Dry","mm":7.5,"kg":1400},{"series":"Rick Lewis Dry","mm":8.2,"kg":1480},{"series":"Rick Lewis Dry","mm":8.8,"kg":1500},{"series":"Rick Lewis Dry","mm":9.4,"kg":1470},{"series":"Rick Lewis Dry","mm":10.0,"kg":1550},{"series":"Rick Lewis Dry","mm":10.7,"kg":1572},{"series":"Rick Lewis Dry","mm":11.3,"kg":1520},{"series":"Rick Lewis Dry","mm":11.9,"kg":1600},{"series":"Rick Lewis Dry","mm":12.7,"kg":1607},{"series":"Rick Lewis Dry","mm":13.3,"kg":1560},{"series":"Rick Lewis Dry","mm":14.0,"kg":1620},{"series":"Rick Lewis Dry","mm":14.6,"kg":1607},{"series":"Rick Lewis Dry","mm":15.3,"kg":1560},{"series":"Rick Lewis Dry","mm":16.1,"kg":1536},{"series":"Rick Lewis Dry","mm":16.7,"kg":1520},{"series":"Rick Lewis Dry","mm":17.3,"kg":1464},{"series":"Rick Lewis Dry","mm":17.9,"kg":1400},{"series":"Rick Lewis Dry","mm":18.4,"kg":1322},{"series":"Rick Lewis Dry","mm":19.2,"kg":1250},{"series":"Rick Lewis Dry","mm":20.0,"kg":1179},{"series":"Rick Lewis Dry","mm":20.7,"kg":1100},{"series":"Rick Lewis Dry","mm":21.5,"kg":1036},{"series":"Rick Lewis Dry","mm":22.3,"kg":964},{"series":"Rick Lewis Dry","mm":23.5,"kg":900},{"series":"Rick Lewis Dry","mm":24.8,"kg":820},{"series":"Rick Lewis Dry","mm":26.1,"kg":750},{"series":"Rick Lewis Dry","mm":27.5,"kg":700},{"series":"Rick Lewis Dry","mm":28.5,"kg":680},{"series":"Rick Lewis Dry","mm":30.0,"kg":607},{"series":"Rick Lewis Dry","mm":31.5,"kg":560},{"series":"Rick Lewis Dry","mm":32.5,"kg":540},{"series":"Rick Lewis Dry","mm":33.8,"kg":500},{"series":"Rick Lewis Dry","mm":35.2,"kg":464},{"series":"Rick Lewis Dry","mm":36.5,"kg":470},{"series":"Rick Lewis Dry","mm":37.7,"kg":464},{"series":"Rick Lewis Dry","mm":39.0,"kg":400},{"series":"Rick Lewis Dry","mm":40.5,"kg":360},{"series":"Rick Lewis Dry","mm":42.9,"kg":321},{"series":"Rick Lewis Dry","mm":45.0,"kg":300},{"series":"Rick Lewis Dry","mm":47.0,"kg":280},{"series":"Rick Lewis Dry","mm":50.6,"kg":250},{"series":"Rick Lewis Dry","mm":54.4,"kg":210},{"series":"Rick Lewis Dry","mm":58.3,"kg":179},{"series":"Rick Lewis Dry","mm":62.0,"kg":150},{"series":"Rick Lewis Dry","mm":66.0,"kg":130},{"series":"Rick Lewis Dry","mm":72.1,"kg":107},{"series":"Rick Lewis Dry","mm":76.0,"kg":80},{"series":"Rick Lewis Dry","mm":80.0,"kg":50},{"series":"Rick Lewis Dry","mm":82.0,"kg":30},

{"series":"English Oak Buildings 1 1/8","mm":0.1,"kg":0},{"series":"English Oak Buildings 1 1/8","mm":0.15,"kg":179},{"series":"English Oak Buildings 1 1/8","mm":0.35,"kg":607},{"series":"English Oak Buildings 1 1/8","mm":0.7,"kg":800},{"series":"English Oak Buildings 1 1/8","mm":1.1,"kg":893},{"series":"English Oak Buildings 1 1/8","mm":1.7,"kg":970},{"series":"English Oak Buildings 1 1/8","mm":2.3,"kg":1036},{"series":"English Oak Buildings 1 1/8","mm":2.9,"kg":1100},{"series":"English Oak Buildings 1 1/8","mm":3.4,"kg":1143},{"series":"English Oak Buildings 1 1/8","mm":4.0,"kg":1170},{"series":"English Oak Buildings 1 1/8","mm":4.6,"kg":1179},{"series":"English Oak Buildings 1 1/8","mm":5.0,"kg":1100},{"series":"English Oak Buildings 1 1/8","mm":5.35,"kg":893},{"series":"English Oak Buildings 1 1/8","mm":5.7,"kg":850},{"series":"English Oak Buildings 1 1/8","mm":6.1,"kg":822},{"series":"English Oak Buildings 1 1/8","mm":6.9,"kg":870},{"series":"English Oak Buildings 1 1/8","mm":7.66,"kg":857},{"series":"English Oak Buildings 1 1/8","mm":8.2,"kg":880},{"series":"English Oak Buildings 1 1/8","mm":8.8,"kg":830},{"series":"English Oak Buildings 1 1/8","mm":9.4,"kg":900},{"series":"English Oak Buildings 1 1/8","mm":10.0,"kg":893},{"series":"English Oak Buildings 1 1/8","mm":10.4,"kg":840},{"series":"English Oak Buildings 1 1/8","mm":11.0,"kg":900},{"series":"English Oak Buildings 1 1/8","mm":11.9,"kg":893},{"series":"English Oak Buildings 1 1/8","mm":12.5,"kg":870},{"series":"English Oak Buildings 1 1/8","mm":13.2,"kg":920},{"series":"English Oak Buildings 1 1/8","mm":13.8,"kg":880},{"series":"English Oak Buildings 1 1/8","mm":14.6,"kg":893},{"series":"English Oak Buildings 1 1/8","mm":15.3,"kg":950},{"series":"English Oak Buildings 1 1/8","mm":15.8,"kg":880},{"series":"English Oak Buildings 1 1/8","mm":16.5,"kg":960},{"series":"English Oak Buildings 1 1/8","mm":17.2,"kg":920},{"series":"English Oak Buildings 1 1/8","mm":18.0,"kg":980},{"series":"English Oak Buildings 1 1/8","mm":18.4,"kg":964},{"series":"English Oak Buildings 1 1/8","mm":19.0,"kg":920},{"series":"English Oak Buildings 1 1/8","mm":19.5,"kg":1010},{"series":"English Oak Buildings 1 1/8","mm":20.0,"kg":1000},{"series":"English Oak Buildings 1 1/8","mm":20.75,"kg":1036},{"series":"English Oak Buildings 1 1/8","mm":21.5,"kg":1000},{"series":"English Oak Buildings 1 1/8","mm":22.2,"kg":1060},{"series":"English Oak Buildings 1 1/8","mm":22.8,"kg":960},{"series":"English Oak Buildings 1 1/8","mm":23.5,"kg":980},{"series":"English Oak Buildings 1 1/8","mm":24.2,"kg":893},{"series":"English Oak Buildings 1 1/8","mm":24.8,"kg":870},{"series":"English Oak Buildings 1 1/8","mm":25.4,"kg":800},{"series":"English Oak Buildings 1 1/8","mm":26.1,"kg":750},{"series":"English Oak Buildings 1 1/8","mm":27.0,"kg":780},{"series":"English Oak Buildings 1 1/8","mm":27.5,"kg":750},{"series":"English Oak Buildings 1 1/8","mm":28.3,"kg":700},{"series":"English Oak Buildings 1 1/8","mm":29.0,"kg":760},{"series":"English Oak Buildings 1 1/8","mm":30.0,"kg":714},{"series":"English Oak Buildings 1 1/8","mm":30.6,"kg":680},{"series":"English Oak Buildings 1 1/8","mm":31.1,"kg":607},{"series":"English Oak Buildings 1 1/8","mm":31.8,"kg":640},{"series":"English Oak Buildings 1 1/8","mm":32.5,"kg":580},{"series":"English Oak Buildings 1 1/8","mm":33.8,"kg":536},{"series":"English Oak Buildings 1 1/8","mm":34.5,"kg":560},{"series":"English Oak Buildings 1 1/8","mm":35.2,"kg":500},{"series":"English Oak Buildings 1 1/8","mm":36.2,"kg":470},{"series":"English Oak Buildings 1 1/8","mm":37.7,"kg":464},{"series":"English Oak Buildings 1 1/8","mm":38.5,"kg":400},{"series":"English Oak Buildings 1 1/8","mm":39.0,"kg":321},{"series":"English Oak Buildings 1 1/8","mm":39.6,"kg":340},{"series":"English Oak Buildings 1 1/8","mm":40.5,"kg":380},{"series":"English Oak Buildings 1 1/8","mm":41.5,"kg":370},{"series":"English Oak Buildings 1 1/8","mm":42.9,"kg":357},{"series":"English Oak Buildings 1 1/8","mm":44.5,"kg":300},{"series":"English Oak Buildings 1 1/8","mm":46.7,"kg":250},{"series":"English Oak Buildings 1 1/8","mm":50.0,"kg":230},{"series":"English Oak Buildings 1 1/8","mm":54.4,"kg":214},{"series":"English Oak Buildings 1 1/8","mm":58.0,"kg":180},{"series":"English Oak Buildings 1 1/8","mm":62.1,"kg":143},{"series":"English Oak Buildings 1 1/8","mm":67.5,"kg":107},{"series":"English Oak Buildings 1 1/8","mm":72.0,"kg":80},{"series":"English Oak Buildings 1 1/8","mm":76.0,"kg":60},{"series":"English Oak Buildings 1 1/8","mm":80.0,"kg":40},{"series":"English Oak Buildings 1 1/8","mm":85.0,"kg":30},{"series":"English Oak Buildings 1 1/8","mm":90.0,"kg":25},{"series":"English Oak Buildings 1 1/8","mm":95.3,"kg":20},

{"series":"English Oak Build. 1 1/2","mm":0.1,"kg":0},{"series":"English Oak Build. 1 1/2","mm":0.15,"kg":321},{"series":"English Oak Build. 1 1/2","mm":0.4,"kg":500},{"series":"English Oak Build. 1 1/2","mm":0.73,"kg":607},{"series":"English Oak Build. 1 1/2","mm":1.5,"kg":660},{"series":"English Oak Build. 1 1/2","mm":2.3,"kg":714},{"series":"English Oak Build. 1 1/2","mm":3.0,"kg":770},{"series":"English Oak Build. 1 1/2","mm":3.8,"kg":822},{"series":"English Oak Build. 1 1/2","mm":4.6,"kg":900},{"series":"English Oak Build. 1 1/2","mm":5.35,"kg":1000},{"series":"English Oak Build. 1 1/2","mm":6.0,"kg":1080},{"series":"English Oak Build. 1 1/2","mm":6.5,"kg":1143},{"series":"English Oak Build. 1 1/2","mm":7.0,"kg":1160},{"series":"English Oak Build. 1 1/2","mm":7.66,"kg":1179},{"series":"English Oak Build. 1 1/2","mm":7.8,"kg":1200},{"series":"English Oak Build. 1 1/2","mm":8.2,"kg":1050},{"series":"English Oak Build. 1 1/2","mm":8.6,"kg":929},{"series":"English Oak Build. 1 1/2","mm":9.2,"kg":960},{"series":"English Oak Build. 1 1/2","mm":9.7,"kg":940},{"series":"English Oak Build. 1 1/2","mm":10.2,"kg":980},{"series":"English Oak Build. 1 1/2","mm":10.7,"kg":964},{"series":"English Oak Build. 1 1/2","mm":11.3,"kg":940},{"series":"English Oak Build. 1 1/2","mm":12.0,"kg":970},{"series":"English Oak Build. 1 1/2","mm":12.7,"kg":929},{"series":"English Oak Build. 1 1/2","mm":13.3,"kg":960},{"series":"English Oak Build. 1 1/2","mm":14.0,"kg":930},{"series":"English Oak Build. 1 1/2","mm":14.6,"kg":980},{"series":"English Oak Build. 1 1/2","mm":15.3,"kg":960},{"series":"English Oak Build. 1 1/2","mm":16.0,"kg":1010},{"series":"English Oak Build. 1 1/2","mm":16.5,"kg":1000},{"series":"English Oak Build. 1 1/2","mm":17.2,"kg":1030},{"series":"English Oak Build. 1 1/2","mm":17.8,"kg":990},{"series":"English Oak Build. 1 1/2","mm":18.4,"kg":1036},{"series":"English Oak Build. 1 1/2","mm":19.0,"kg":1060},{"series":"English Oak Build. 1 1/2","mm":19.5,"kg":1030},{"series":"English Oak Build. 1 1/2","mm":20.0,"kg":1107},{"series":"English Oak Build. 1 1/2","mm":20.75,"kg":1130},{"series":"English Oak Build. 1 1/2","mm":21.5,"kg":1143},{"series":"English Oak Build. 1 1/2","mm":22.3,"kg":1150},{"series":"English Oak Build. 1 1/2","mm":23.1,"kg":1107},{"series":"English Oak Build. 1 1/2","mm":23.7,"kg":1180},{"series":"English Oak Build. 1 1/2","mm":24.3,"kg":1150},{"series":"English Oak Build. 1 1/2","mm":24.9,"kg":1230},{"series":"English Oak Build. 1 1/2","mm":25.4,"kg":1215},{"series":"English Oak Build. 1 1/2","mm":25.8,"kg":1100},{"series":"English Oak Build. 1 1/2","mm":26.1,"kg":1036},{"series":"English Oak Build. 1 1/2","mm":26.8,"kg":1080},{"series":"English Oak Build. 1 1/2","mm":27.5,"kg":1036},{"series":"English Oak Build. 1 1/2","mm":28.3,"kg":1000},{"series":"English Oak Build. 1 1/2","mm":29.2,"kg":964},{"series":"English Oak Build. 1 1/2","mm":29.8,"kg":1010},{"series":"English Oak Build. 1 1/2","mm":30.5,"kg":930},{"series":"English Oak Build. 1 1/2","mm":31.3,"kg":822},{"series":"English Oak Build. 1 1/2","mm":31.9,"kg":893},{"series":"English Oak Build. 1 1/2","mm":32.8,"kg":850},{"series":"English Oak Build. 1 1/2","mm":33.8,"kg":822},{"series":"English Oak Build. 1 1/2","mm":34.5,"kg":780},{"series":"English Oak Build. 1 1/2","mm":35.2,"kg":679},{"series":"English Oak Build. 1 1/2","mm":36.5,"kg":720},{"series":"English Oak Build. 1 1/2","mm":37.7,"kg":714},{"series":"English Oak Build. 1 1/2","mm":38.5,"kg":650},{"series":"English Oak Build. 1 1/2","mm":39.0,"kg":607},{"series":"English Oak Build. 1 1/2","mm":39.6,"kg":643},{"series":"English Oak Build. 1 1/2","mm":40.5,"kg":600},{"series":"English Oak Build. 1 1/2","mm":42.9,"kg":572},{"series":"English Oak Build. 1 1/2","mm":44.5,"kg":500},{"series":"English Oak Build. 1 1/2","mm":46.7,"kg":429},{"series":"English Oak Build. 1 1/2","mm":48.5,"kg":370},{"series":"English Oak Build. 1 1/2","mm":50.6,"kg":321},{"series":"English Oak Build. 1 1/2","mm":52.5,"kg":280},{"series":"English Oak Build. 1 1/2","mm":54.4,"kg":250},{"series":"English Oak Build. 1 1/2","mm":58.3,"kg":214},{"series":"English Oak Build. 1 1/2","mm":62.0,"kg":180},{"series":"English Oak Build. 1 1/2","mm":66.0,"kg":143},{"series":"English Oak Build. 1 1/2","mm":70.0,"kg":110},{"series":"English Oak Build. 1 1/2","mm":75.0,"kg":80},{"series":"English Oak Build. 1 1/2","mm":80.0,"kg":50},{"series":"English Oak Build. 1 1/2","mm":85.0,"kg":35}
]},
"mark":{"type":"line","strokeWidth":2,"clip":true},
"encoding":{
"x":{"field":"mm","type":"quantitative","scale":{"domain":[0,120],"nice":false,"zero":false},
"axis":{"values":[0,20,40,60,80,100,120],"grid":false,"domainColor":"black","tickColor":"black","tickSize":5,"labelColor":"black","labelFont":"Liberation Sans","labelFontSize":15,"labelPadding":7,"title":"Displacement (mm)","titleFont":"Liberation Sans","titleFontSize":16,"titleFontWeight":"bold","titleColor":"black","titlePadding":19}},
"y":{"field":"kg","type":"quantitative","scale":{"domain":[0,12000],"nice":false},
"axis":{"values":[0,2000,4000,6000,8000,10000,12000],"format":"d","grid":false,"domainColor":"black","tickColor":"black","tickSize":5,"labelColor":"black","labelFont":"Liberation Sans","labelFontSize":15,"labelPadding":6,"title":"Load (kG)","titleFont":"Liberation Sans","titleFontSize":16,"titleFontWeight":"bold","titleColor":"black","titlePadding":14}},
"color":{"field":"series","type":"nominal",
"scale":{"domain":["COWCo through","Martin Silburn","\u00a0CO (Devon)","COWCo 1 in.","COWCo 3/4 in.","Jim Blackburn","Crumps","Rick Lewis green","Rick Lewis Dry","English Oak Buildings 1 1/8","English Oak Build. 1 1/2"],
"range":["#000080","#FF00FF","#FFFF00","#00FFFF","#800080","#800000","#008080","#0000FF","#00CCFF","#FF0000","#FF6600"]},
"legend":{"orient":"none","legendX":931,"legendY":-93,"title":null,"symbolType":"stroke","symbolSize":900,"symbolStrokeWidth":2,"labelFont":"Liberation Sans","labelFontSize":16,"labelColor":"black","rowPadding":1,"labelLimit":300}},
"order":{"value":null}
}
}
